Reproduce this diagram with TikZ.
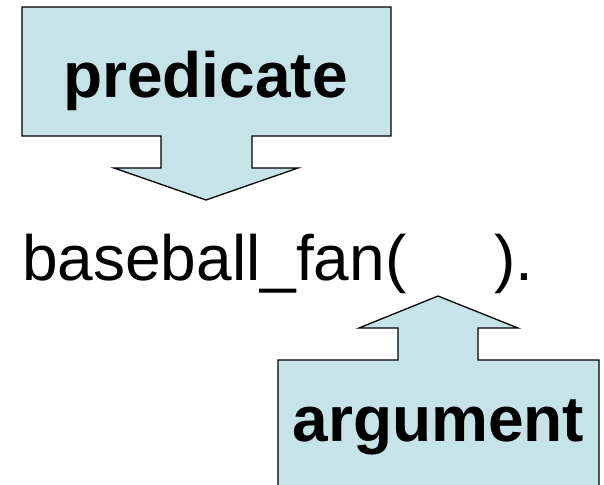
\documentclass[tikz,border=0pt]{standalone}
\usepackage{fontspec}
\setmainfont{Liberation Sans}
\usepackage{tikz}
\definecolor{Call}{HTML}{C6E4E8}
\definecolor{Ink}{HTML}{000000}

\begin{document}
\begin{tikzpicture}[x=1pt,y=-1pt]
  \useasboundingbox (0,0) rectangle (604,484);
  \clip (0,0) rectangle (604,484);
  \tikzset{callout/.style={fill=Call,draw=Ink,line width=1.3pt,line join=miter},
    big/.style={font=\fontsize{64}{70}\selectfont,inner sep=0pt},
    bigb/.style={font=\fontsize{64}{70}\selectfont\bfseries,inner sep=0pt}}
  % predicate callout, pointing down
  \draw[callout] (22,7) -- (391,7) -- (391,136) -- (252,136) -- (252,168) -- (298,168)
    -- (206,200) -- (114,168) -- (161,168) -- (161,136) -- (22,136) -- cycle;
  \node[bigb,anchor=base] (pred) at (205.5,98) {predicate};
  % argument callout, pointing up
  \draw[callout] (278,495) -- (278,360) -- (398,360) -- (398,328) -- (359,328) -- (438,296)
    -- (518,328) -- (478,328) -- (478,360) -- (599,360) -- (599,495);
  \node[bigb,anchor=base] (arg) at (438.5,441) {argument};
  \node[big,anchor=base west] (fact) at (22,280) {baseball\_fan(\hspace{1.37em}).};
\end{tikzpicture}
\end{document}
